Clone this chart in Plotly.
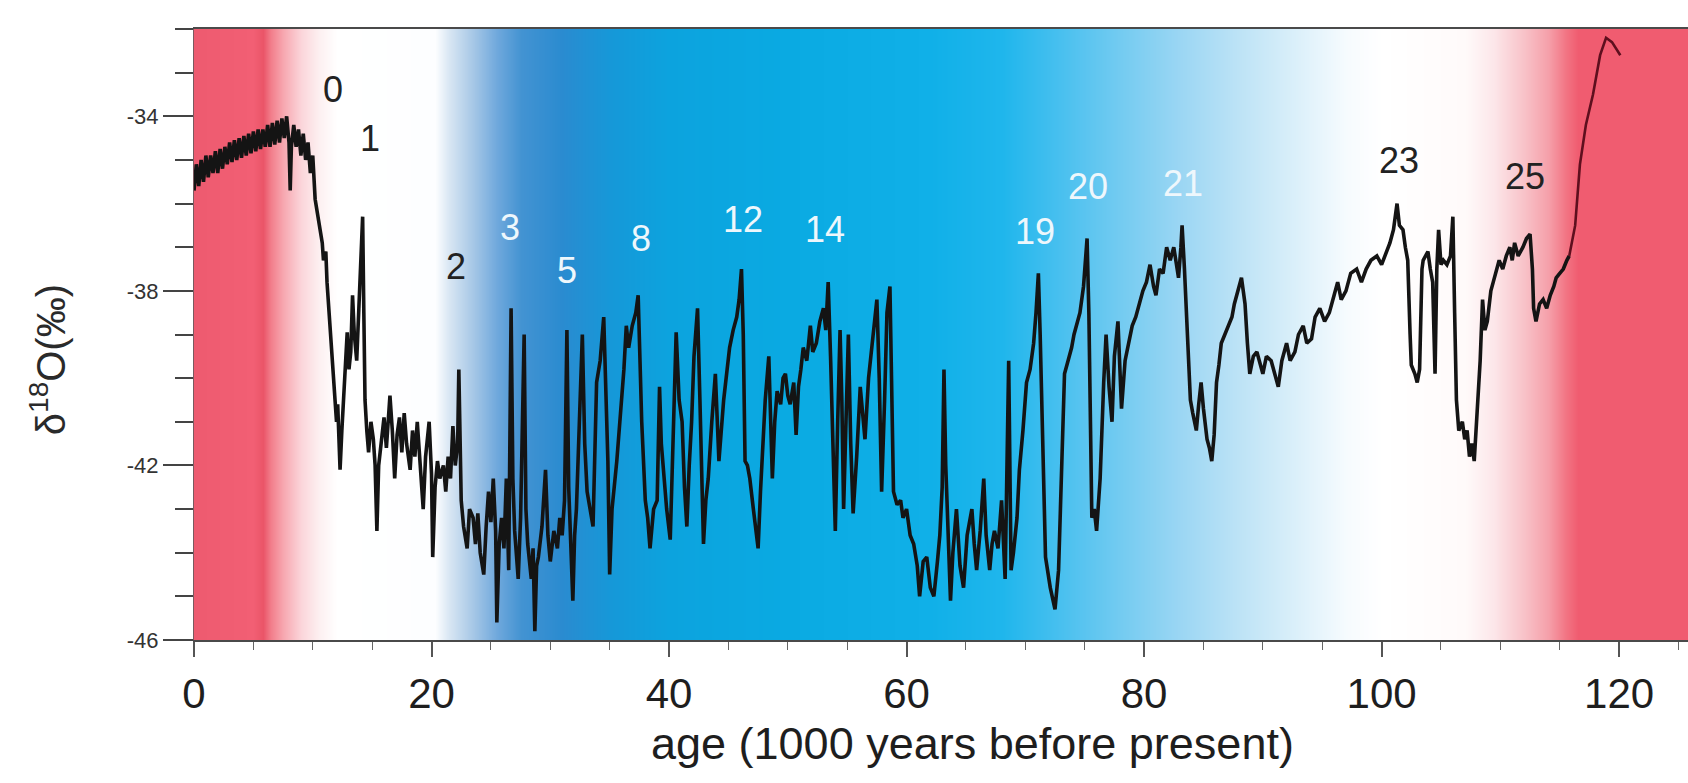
import plotly.graph_objects as go

# ---------------- data ----------------
age_ka = [
    0.0, 0.2, 0.4, 0.6, 0.8, 1.0, 1.2, 1.4, 1.6, 1.8, 2.0, 2.2, 2.4, 2.6, 2.8, 3.0, 3.2, 3.4, 3.6, 3.8,
    4.0, 4.2, 4.4, 4.6, 4.8, 5.0, 5.2, 5.4, 5.6, 5.8, 6.0, 6.2, 6.4, 6.6, 6.8, 7.0, 7.2, 7.4, 7.6, 7.8,
    8.0, 8.1, 8.2, 8.4, 8.6, 8.8, 9.0, 9.2, 9.4, 9.6, 9.8, 10.0, 10.2, 10.4, 10.6, 10.8, 10.9, 11.1, 11.2, 11.4,
    11.5, 11.7, 11.8, 12.0, 12.1, 12.3, 12.45, 12.6, 12.75, 12.9, 13.05, 13.2, 13.35, 13.5, 13.7, 13.85, 14.0, 14.2, 14.3, 14.4,
    14.55, 14.7, 14.9, 15.1, 15.25, 15.4, 15.55, 15.8, 16.0, 16.2, 16.5, 16.7, 16.9, 17.1, 17.3, 17.5, 17.7, 17.9, 18.2, 18.4,
    18.6, 18.8, 19.0, 19.3, 19.5, 19.8, 20.0, 20.1, 20.3, 20.5, 20.7, 21.0, 21.2, 21.4, 21.6, 21.8, 22.0, 22.2, 22.3, 22.4,
    22.5, 22.7, 23.0, 23.2, 23.5, 23.7, 23.9, 24.1, 24.4, 24.6, 24.8, 25.0, 25.2, 25.4, 25.5, 25.7, 25.9, 26.1, 26.3, 26.5,
    26.7, 26.85, 27.0, 27.3, 27.5, 27.8, 27.95, 28.1, 28.4, 28.55, 28.7, 28.85, 29.0, 29.3, 29.6, 29.8, 30.0, 30.3, 30.6, 30.8,
    31.0, 31.2, 31.4, 31.55, 31.7, 31.9, 32.05, 32.2, 32.45, 32.7, 32.9, 33.1, 33.35, 33.6, 33.9, 34.2, 34.5, 34.7, 34.85, 35.0,
    35.2, 35.6, 36.0, 36.2, 36.4, 36.6, 36.9, 37.2, 37.4, 37.55, 37.7, 38.0, 38.2, 38.4, 38.7, 39.0, 39.2, 39.35, 39.5, 39.8,
    40.1, 40.35, 40.6, 40.85, 41.1, 41.3, 41.5, 41.7, 41.9, 42.1, 42.4, 42.6, 42.9, 43.1, 43.3, 43.6, 43.9, 44.2, 44.4, 44.6,
    44.85, 45.1, 45.4, 45.7, 45.9, 46.1, 46.25, 46.4, 46.6, 46.8, 47.1, 47.3, 47.5, 47.7, 47.9, 48.1, 48.4, 48.55, 48.7, 48.9,
    49.1, 49.4, 49.6, 49.8, 50.0, 50.2, 50.5, 50.7, 50.9, 51.1, 51.3, 51.6, 51.9, 52.1, 52.4, 52.7, 53.0, 53.2, 53.4, 53.6,
    53.75, 54.0, 54.2, 54.4, 54.55, 54.7, 54.9, 55.1, 55.3, 55.5, 55.8, 56.1, 56.3, 56.5, 56.8, 57.1, 57.3, 57.5, 57.7, 57.9,
    58.15, 58.35, 58.6, 58.75, 58.9, 59.2, 59.5, 59.7, 60.0, 60.3, 60.6, 60.9, 61.1, 61.4, 61.7, 62.0, 62.3, 62.6, 62.8, 63.0,
    63.15, 63.3, 63.5, 63.7, 63.9, 64.2, 64.5, 64.8, 65.1, 65.5, 65.7, 65.9, 66.2, 66.5, 66.7, 67.0, 67.2, 67.4, 67.7, 68.0,
    68.3, 68.6, 68.8, 69.0, 69.3, 69.5, 69.8, 70.1, 70.4, 70.7, 70.9, 71.1, 71.25, 71.4, 71.7, 72.1, 72.3, 72.5, 72.8, 73.1,
    73.3, 73.6, 73.9, 74.1, 74.3, 74.6, 74.9, 75.2, 75.35, 75.45, 75.6, 75.8, 76.0, 76.3, 76.45, 76.6, 76.8, 77.05, 77.3, 77.5,
    77.8, 78.1, 78.4, 78.8, 79.0, 79.3, 79.6, 79.9, 80.2, 80.5, 80.8, 81.0, 81.3, 81.6, 81.9, 82.2, 82.5, 82.7, 82.9, 83.1,
    83.2, 83.4, 83.6, 83.9, 84.1, 84.4, 84.6, 84.8, 85.0, 85.3, 85.5, 85.7, 85.9, 86.1, 86.3, 86.5, 86.8, 87.1, 87.4, 87.6,
    87.9, 88.2, 88.35, 88.5, 88.7, 88.9, 89.2, 89.5, 89.8, 90.0, 90.3, 90.7, 91.0, 91.3, 91.6, 92.0, 92.3, 92.7, 93.0, 93.4,
    93.7, 94.1, 94.4, 94.8, 95.2, 95.6, 96.0, 96.3, 96.6, 97.0, 97.4, 97.9, 98.3, 98.7, 99.1, 99.6, 100.0, 100.4, 100.7, 101.0,
    101.3, 101.5, 101.8, 102.0, 102.2, 102.4, 102.5, 102.8, 103.0, 103.2, 103.4, 103.5, 103.9, 104.1, 104.3, 104.5, 104.65, 104.8, 105.0, 105.2,
    105.5, 105.8, 106.0, 106.15, 106.3, 106.5, 106.8, 107.0, 107.2, 107.4, 107.6, 107.8, 108.0, 108.3, 108.5, 108.7, 108.9, 109.2, 109.4, 109.7,
    109.9, 110.2, 110.5, 110.8, 111.0, 111.2, 111.5, 111.9, 112.2, 112.5, 112.7, 112.8, 113.0, 113.3, 113.6, 113.9, 114.2, 114.5, 114.7, 115.0,
    115.3, 115.6, 115.8, 116.0, 116.3, 116.7, 117.2, 117.8, 118.4, 118.9, 119.4, 120.1,
]

d18o = [
    -35.7, -35.1, -35.6, -35.0, -35.5, -34.9, -35.4, -34.9, -35.3, -34.8, -35.3, -34.75, -35.2, -34.7, -35.1, -34.6, -35.05, -34.55, -35.0, -34.5,
    -34.95, -34.45, -34.9, -34.4, -34.85, -34.35, -34.8, -34.3, -34.75, -34.3, -34.7, -34.2, -34.7, -34.15, -34.65, -34.1, -34.6, -34.05, -34.5, -34.0,
    -34.6, -35.7, -34.7, -34.2, -34.7, -34.3, -34.9, -34.4, -35.0, -34.6, -35.3, -34.9, -35.9, -36.2, -36.6, -36.9, -37.3, -37.1, -37.8, -38.6,
    -39.1, -39.6, -40.0, -41.0, -40.6, -42.1, -41.2, -40.5, -39.5, -38.95, -39.8, -39.4, -38.1, -39.0, -39.6, -38.5, -37.5, -36.3, -38.5, -40.5,
    -41.2, -41.7, -41.0, -41.4, -42.0, -43.5, -42.0, -41.4, -40.9, -41.6, -40.4, -41.2, -42.3, -41.3, -40.9, -41.7, -40.8, -41.5, -42.1, -41.2,
    -41.8, -41.0, -41.9, -43.0, -41.8, -41.0, -42.2, -44.1, -42.5, -41.9, -42.3, -42.0, -42.6, -41.8, -42.3, -41.1, -42.0, -41.5, -39.8, -42.2,
    -42.8, -43.4, -43.9, -43.0, -43.2, -43.8, -43.1, -44.0, -44.5, -43.4, -42.6, -43.3, -42.3, -43.5, -45.6, -43.8, -43.2, -43.9, -42.3, -44.4,
    -38.4, -42.3, -43.5, -44.6, -43.2, -39.0, -43.0, -43.8, -44.6, -43.9, -45.8, -44.3, -44.1, -43.4, -42.1, -43.6, -44.2, -43.5, -43.9, -43.2,
    -43.6, -42.8, -38.9, -42.5, -43.7, -45.1, -43.6, -43.0, -41.0, -39.0, -41.5, -42.6, -43.0, -43.4, -40.1, -39.6, -38.6, -40.5, -41.9, -44.5,
    -43.0, -41.9, -40.6, -39.8, -38.8, -39.3, -38.8, -38.5, -38.1, -39.5, -41.0, -42.8, -43.2, -43.9, -43.0, -42.8, -40.2, -41.5, -42.1, -43.0,
    -43.7, -41.0, -38.95, -40.5, -41.0, -42.5, -43.4, -42.0, -41.0, -39.5, -38.4, -40.5, -43.8, -42.8, -42.3, -41.0, -39.9, -41.9, -41.2, -40.5,
    -39.9, -39.3, -38.9, -38.6, -38.2, -37.5, -39.0, -41.9, -42.0, -42.3, -43.0, -43.4, -43.9, -42.6, -41.5, -40.5, -39.5, -41.0, -42.3, -41.0,
    -40.3, -40.6, -40.0, -39.9, -40.4, -40.6, -40.1, -41.3, -40.2, -39.8, -39.3, -39.6, -38.8, -39.4, -39.2, -38.7, -38.4, -38.9, -37.8, -39.5,
    -41.0, -43.5, -41.0, -38.9, -40.5, -43.0, -41.0, -39.0, -41.5, -43.1, -41.8, -40.2, -40.8, -41.4, -40.0, -39.2, -38.7, -38.2, -40.0, -42.6,
    -40.5, -38.5, -37.9, -40.0, -42.6, -42.9, -42.8, -43.2, -43.0, -43.6, -43.8, -44.3, -45.0, -44.2, -44.1, -44.8, -45.0, -44.2, -43.6, -42.5,
    -39.8, -42.0, -43.8, -45.1, -44.0, -43.0, -44.3, -44.8, -43.6, -43.0, -43.8, -44.4, -43.5, -42.3, -43.6, -44.4, -43.8, -43.5, -43.9, -42.8,
    -44.6, -39.6, -44.4, -44.0, -43.2, -42.1, -41.2, -40.1, -39.8, -39.2, -38.5, -37.6, -39.0, -41.0, -44.1, -44.8, -45.1, -45.3, -44.4, -41.4,
    -39.9, -39.6, -39.3, -39.0, -38.8, -38.5, -37.9, -36.8, -38.5, -40.1, -43.2, -43.0, -43.5, -42.3, -41.0, -40.1, -39.0, -40.2, -41.0, -39.5,
    -38.7, -40.7, -39.6, -39.0, -38.8, -38.6, -38.3, -38.0, -37.8, -37.4, -37.9, -38.1, -37.5, -37.6, -37.0, -37.3, -37.0, -37.4, -37.7, -37.0,
    -36.5, -37.5, -38.8, -40.5, -40.8, -41.2, -40.6, -40.1, -40.7, -41.4, -41.6, -41.9, -41.3, -40.1, -39.7, -39.2, -39.0, -38.8, -38.6, -38.3,
    -38.0, -37.7, -38.0, -38.3, -39.2, -39.9, -39.5, -39.4, -39.7, -39.9, -39.5, -39.6, -39.9, -40.2, -39.6, -39.2, -39.6, -39.4, -39.0, -38.8,
    -39.2, -39.1, -38.6, -38.4, -38.7, -38.5, -38.1, -37.8, -38.2, -38.0, -37.6, -37.5, -37.8, -37.5, -37.3, -37.2, -37.4, -37.1, -36.9, -36.6,
    -36.0, -36.5, -36.6, -37.0, -37.3, -39.0, -39.7, -39.9, -40.1, -39.8, -37.5, -37.3, -37.1, -37.5, -37.8, -39.9, -37.5, -36.6, -37.4, -37.3,
    -37.4, -37.2, -36.3, -38.5, -40.5, -41.2, -41.0, -41.4, -41.2, -41.8, -41.5, -41.9, -41.0, -39.6, -38.2, -38.9, -38.7, -38.0, -37.8, -37.5,
    -37.3, -37.5, -37.2, -37.0, -37.3, -36.9, -37.2, -37.0, -36.8, -36.7, -37.5, -38.4, -38.7, -38.3, -38.2, -38.4, -38.1, -37.9, -37.7, -37.6,
    -37.5, -37.3, -37.2, -36.9, -36.5, -35.1, -34.2, -33.5, -32.6, -32.2, -32.3, -32.6,
]

# interstadial labels
event_labels = ["0", "1", "2", "3", "5", "8", "12", "14", "19", "20", "21", "23", "25"]
event_x = [11.7, 14.85, 22.1, 26.6, 31.4, 37.6, 46.25, 53.1, 70.8, 75.3, 83.3, 101.5, 112.05]
event_y = [-33.38, -34.51, -37.45, -36.54, -37.54, -36.81, -36.36, -36.59, -36.63, -35.6, -35.55, -35.01, -35.37]
event_dark = [True, True, True, False, False, False, False, False, False, False, False, True, True]

x_tick_vals = [0, 20, 40, 60, 80, 100, 120]
y_tick_vals = [-46, -42, -38, -34]
y_tick_text = ["-46", "-42", "-38", "-34"]

# background climate shading: stop positions (ka) and colours
bg_x = [-2, 0.5, 5.0, 5.8, 6.5, 7.5, 9.0, 10.5, 12.0, 20.3, 21.5, 23.5, 25.5, 27.5, 31.0, 35.0, 40.0, 50.0,
        62.0, 68.0, 73.0, 78.0, 83.0, 88.0, 93.0, 97.0, 100.0, 107.0, 109.5, 112.0, 114.0, 115.5, 116.5, 128.0]
bg_colors = ["#e85a6e", "#ee5b70", "#f25f74", "#ea5568", "#f27f8c", "#f7a7b0", "#fbd5da", "#fdf0f1", "#ffffff",
             "#fdfeff", "#d8e6f3", "#a6c7e6", "#6fa8dc", "#4393d2", "#2a8bd0", "#1698d8", "#0ca3de", "#0aaae2",
             "#10b0e8", "#1fb6ec", "#49c0ef", "#73cbf1", "#9bd6f3", "#bde3f6", "#dcf0fa", "#f6fbfe", "#ffffff",
             "#fffafa", "#fce6e9", "#f8c2c8", "#f5a0aa", "#f27483", "#f05c70", "#f05c70"]

X_RANGE = [0, 125.8]
Y_RANGE = [-46, -32]
FONT = "Arial, 'Liberation Sans', sans-serif"

# ---------------- figure ----------------
fig = go.Figure()

lo, hi = bg_x[0], bg_x[-1]
colorscale = [[(v - lo) / (hi - lo), c] for v, c in zip(bg_x, bg_colors)]
fig.add_trace(go.Heatmap(
    x=bg_x, y=[-47, -31], z=[bg_x, bg_x],
    colorscale=colorscale, zmin=lo, zmax=hi, zsmooth="best",
    showscale=False, hoverinfo="skip",
))

split = next(i for i, v in enumerate(age_ka) if v >= 115.8)
fig.add_trace(go.Scatter(
    x=age_ka[:split + 1], y=d18o[:split + 1], mode="lines",
    line=dict(color="#141414", width=3.6), hoverinfo="skip", showlegend=False,
))
fig.add_trace(go.Scatter(
    x=age_ka[split:], y=d18o[split:], mode="lines",
    line=dict(color="#5e0f1e", width=2.6), hoverinfo="skip", showlegend=False,
))

for lab, xv, yv, dark in zip(event_labels, event_x, event_y, event_dark):
    fig.add_annotation(
        x=xv, y=yv, text=lab, showarrow=False, xref="x", yref="y",
        font=dict(family=FONT, size=36, color="#222222" if dark else "#eef7fc"),
    )

# axis titles
fig.add_annotation(
    xref="paper", yref="paper", x=0.5208, y=-0.169, text="age (1000 years before present)",
    showarrow=False, font=dict(family=FONT, size=45, color="#1e1e1e"), xanchor="center", yanchor="middle",
)
fig.add_annotation(
    xref="paper", yref="paper", x=-0.0977, y=0.458, text="δ<sup>18</sup>O(‰)", textangle=-90,
    showarrow=False, font=dict(family=FONT, size=40, color="#2a2a2a"), xanchor="center", yanchor="middle",
)

fig.update_layout(
    width=1688, height=783,
    margin=dict(l=194, r=0, t=29, b=143),
    paper_bgcolor="white", plot_bgcolor="white",
    showlegend=False,
    xaxis=dict(
        range=X_RANGE, showgrid=False, zeroline=False,
        showline=True, linecolor="#4a4a4a", linewidth=2, mirror=True,
        tickmode="array", tickvals=x_tick_vals, ticks="outside", ticklen=15, tickwidth=1.5, tickcolor="#555",
        minor=dict(dtick=5, tick0=0, ticks="outside", ticklen=8, tickwidth=1.2, tickcolor="#666", showgrid=False),
        tickfont=dict(family=FONT, size=42, color="#1e1e1e"),
        ticklabelstandoff=1,
    ),
    yaxis=dict(
        range=Y_RANGE, showgrid=False, zeroline=False,
        showline=True, linecolor="#7a5a60", linewidth=1,
        tickmode="array", tickvals=y_tick_vals, ticktext=y_tick_text,
        ticks="outside", ticklen=30, tickwidth=1.5, tickcolor="#444",
        minor=dict(dtick=1, tick0=-46, ticks="outside", ticklen=18, tickwidth=1.5, tickcolor="#444", showgrid=False),
        tickfont=dict(family=FONT, size=22, color="#333"),
    ),
)

fig.write_html("out.html")
